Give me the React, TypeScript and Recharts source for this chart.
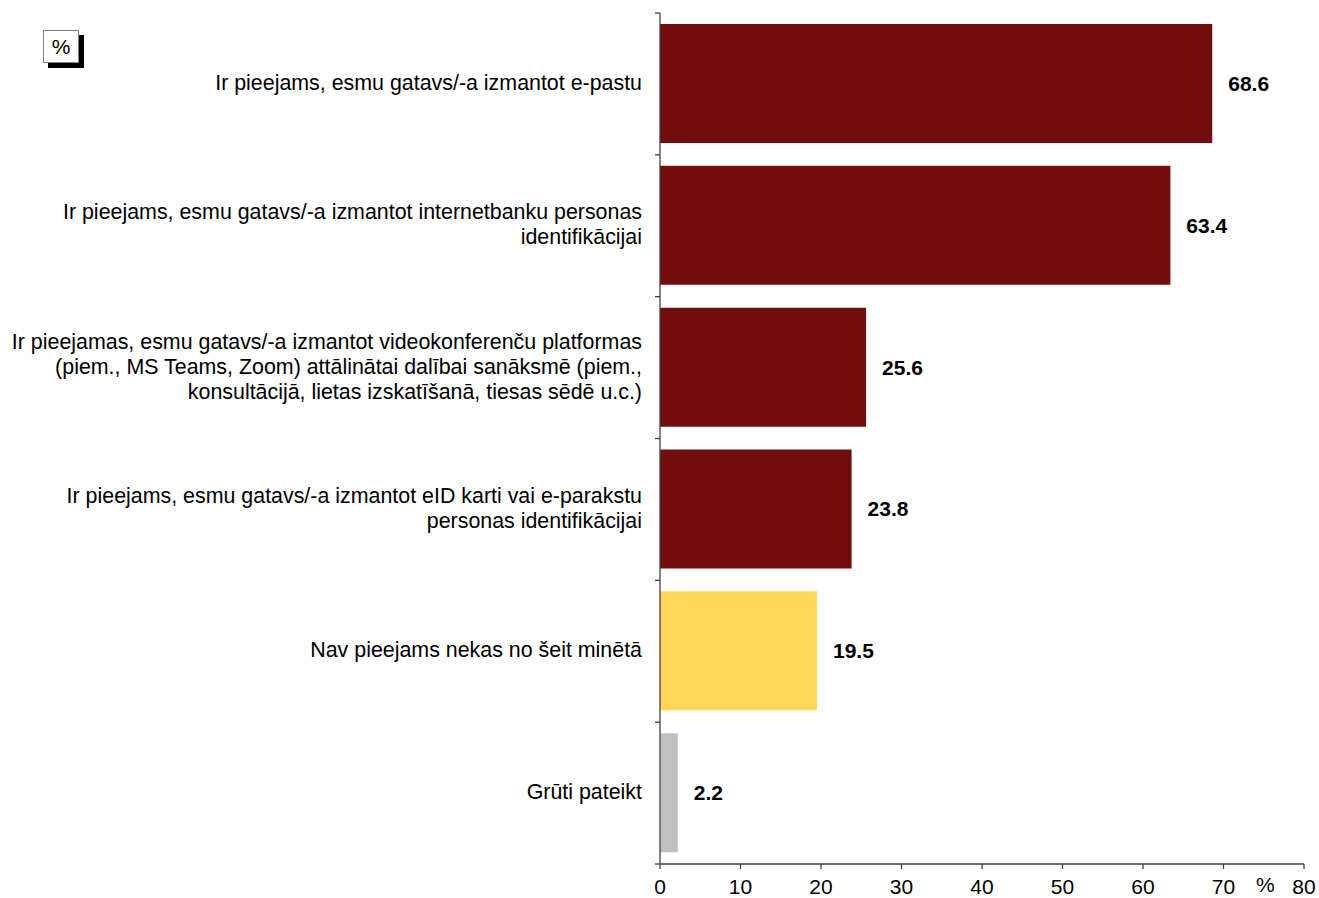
import React from "react";
import { BarChart, Bar, XAxis, YAxis, Cell, LabelList } from "recharts";

const categories: string[][] = [
  ["Ir pieejams, esmu gatavs/-a izmantot e-pastu"],
  ["Ir pieejams, esmu gatavs/-a izmantot internetbanku personas", "identifikācijai"],
  [
    "Ir pieejamas, esmu gatavs/-a izmantot videokonferenču platformas",
    "(piem., MS Teams, Zoom) attālinātai dalībai sanāksmē (piem.,",
    "konsultācijā, lietas izskatīšanā, tiesas sēdē u.c.)",
  ],
  ["Ir pieejams, esmu gatavs/-a izmantot eID karti vai e-parakstu", "personas identifikācijai"],
  ["Nav pieejams nekas no šeit minētā"],
  ["Grūti pateikt"],
];
const values: number[] = [68.6, 63.4, 25.6, 23.8, 19.5, 2.2];
const colors: string[] = ["#730C0C", "#730C0C", "#730C0C", "#730C0C", "#FED65A", "#C0C0C0"];
const xTicks: number[] = [0, 10, 20, 30, 40, 50, 60, 70, 80];

const data = categories.map((lines, i) => ({ name: String(i), value: values[i], color: colors[i] }));

const W = 1319;
const H = 898;
const MARGIN = { top: 13, right: 15, bottom: 0, left: 0 };
const X_AXIS_H = 34;
const PLOT_H = H - MARGIN.top - MARGIN.bottom - X_AXIS_H;
const BAND = PLOT_H / categories.length;
const FONT = "'Liberation Sans', Arial, sans-serif";
const AXIS_COLOR = "#404040";
const FS = 21;
const FS_CAT = 21.4;

const YTick = (props: any) => {
  const { x, y, payload, index } = props;
  const lines = categories[Number(payload.value)] || [];
  const lh = 25;
  const startDy = -((lines.length - 1) * lh) / 2;
  const ax = x + 18;
  return (
    <g>
      <line x1={ax - 5} x2={ax} y1={y - BAND / 2} y2={y - BAND / 2} stroke={AXIS_COLOR} strokeWidth={1.3} />
      {index === categories.length - 1 && (
        <line x1={ax - 5} x2={ax} y1={y + BAND / 2} y2={y + BAND / 2} stroke={AXIS_COLOR} strokeWidth={1.3} />
      )}
      <text x={x} y={y} textAnchor="end" fontFamily={FONT} fontSize={FS_CAT} fill="#000">
        {lines.map((l, i) => (
          <tspan key={i} x={x} dy={i === 0 ? startDy + 6 : lh}>
            {l}
          </tspan>
        ))}
      </text>
    </g>
  );
};

export default function App() {
  return (
    <div style={{ position: "absolute", left: 0, top: 0, width: W, height: H, background: "#fff" }}>
      <BarChart width={W} height={H} data={data} layout="vertical" margin={MARGIN} barSize={119}>
        <XAxis
          type="number"
          domain={[0, 80]}
          ticks={xTicks}
          interval={0}
          height={X_AXIS_H}
          tickSize={5}
          tickMargin={10}
          stroke={AXIS_COLOR}
          axisLine={{ stroke: AXIS_COLOR, strokeWidth: 1.3 }}
          tickLine={{ stroke: AXIS_COLOR, strokeWidth: 1.3 }}
          tick={{ fill: "#000", fontSize: FS, fontFamily: FONT }}
        />
        <YAxis
          type="category"
          dataKey="name"
          width={660}
          tickSize={5}
          tickMargin={13}
          tickLine={false}
          axisLine={{ stroke: AXIS_COLOR, strokeWidth: 1.3 }}
          tick={<YTick />}
          interval={0}
        />
        <Bar dataKey="value" isAnimationActive={false}>
          {data.map((d, i) => (
            <Cell key={i} fill={d.color} />
          ))}
          <LabelList
            dataKey="value"
            position="right"
            offset={16}
            formatter={(v: any) => Number(v).toFixed(1)}
            style={{ fontFamily: FONT, fontSize: FS, fontWeight: "bold", fill: "#000" }}
          />
        </Bar>
      </BarChart>
      <div
        style={{
          position: "absolute",
          left: 1256,
          top: 873,
          fontFamily: FONT,
          fontSize: FS,
          color: "#000",
        }}
      >
        %
      </div>
      <div
        style={{
          position: "absolute",
          left: 43,
          top: 30,
          width: 34,
          height: 31,
          border: "1px solid #808080",
          background: "#fff",
          boxShadow: "5px 5px 0 #000",
          fontFamily: FONT,
          fontSize: FS,
          lineHeight: "31px",
          textAlign: "center",
          color: "#000",
        }}
      >
        %
      </div>
    </div>
  );
}
